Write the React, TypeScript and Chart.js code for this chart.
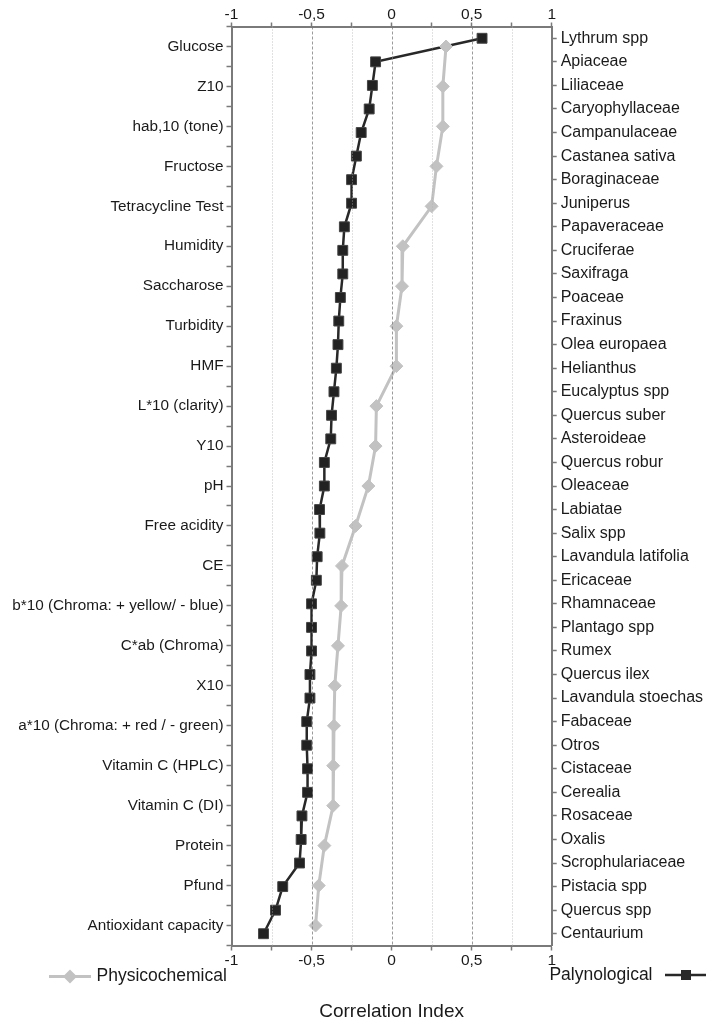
import React, { useEffect, useRef } from 'react';
import { Chart, registerables } from 'chart.js';

Chart.register(...registerables);

const physLabels = [
  'Glucose', 'Z10', 'hab,10 (tone)', 'Fructose', 'Tetracycline Test', 'Humidity', 'Saccharose',
  'Turbidity', 'HMF', 'L*10 (clarity)', 'Y10', 'pH', 'Free acidity', 'CE',
  'b*10 (Chroma: + yellow/ - blue)', 'C*ab (Chroma)', 'X10', 'a*10 (Chroma: + red / - green)',
  'Vitamin C (HPLC)', 'Vitamin C (DI)', 'Protein', 'Pfund', 'Antioxidant capacity',
];
const physValues = [
  0.34, 0.32, 0.32, 0.28, 0.25, 0.07, 0.065, 0.03, 0.03, -0.095, -0.10, -0.145, -0.225,
  -0.31, -0.315, -0.335, -0.355, -0.36, -0.365, -0.365, -0.42, -0.455, -0.475,
];

const palyLabels = [
  'Lythrum spp', 'Apiaceae', 'Liliaceae', 'Caryophyllaceae', 'Campanulaceae', 'Castanea sativa',
  'Boraginaceae', 'Juniperus', 'Papaveraceae', 'Cruciferae', 'Saxifraga', 'Poaceae', 'Fraxinus',
  'Olea europaea', 'Helianthus', 'Eucalyptus spp', 'Quercus suber', 'Asteroideae', 'Quercus robur',
  'Oleaceae', 'Labiatae', 'Salix spp', 'Lavandula latifolia', 'Ericaceae', 'Rhamnaceae',
  'Plantago spp', 'Rumex', 'Quercus ilex', 'Lavandula stoechas', 'Fabaceae', 'Otros', 'Cistaceae',
  'Cerealia', 'Rosaceae', 'Oxalis', 'Scrophulariaceae', 'Pistacia spp', 'Quercus spp', 'Centaurium',
];
const palyValues = [
  0.565, -0.10, -0.12, -0.14, -0.19, -0.22, -0.25, -0.25, -0.295, -0.305, -0.305, -0.32, -0.33,
  -0.335, -0.345, -0.36, -0.375, -0.38, -0.42, -0.42, -0.45, -0.448, -0.465, -0.47, -0.50,
  -0.50, -0.50, -0.51, -0.51, -0.53, -0.53, -0.525, -0.525, -0.56, -0.565, -0.575, -0.68, -0.725, -0.80,
];

const gridValues = [-0.75, -0.5, -0.25, 0, 0.25, 0.5, 0.75];
const xTitle = 'Correlation Index';
const physName = 'Physicochemical';
const palyName = 'Palynological';

const FONT = "'Liberation Sans', Arial, sans-serif";
const TEXT = '#1a1a1a';
const AXIS = '#7a7a7a';
const GRAY = '#c2c2c2';
const DARK = '#282828';

const isInt = (v: number) => Math.abs(v - Math.round(v)) < 1e-6;
const isHalf = (v: number) => isInt(v * 2);
const fmt = (v: number) => String(Math.round(v * 100) / 100).replace('.', ',');

const gridPlugin = {
  id: 'customGrid',
  afterDatasetsDraw(chart: any) {
    const { ctx, chartArea } = chart;
    const xs = chart.scales.x;
    ctx.save();
    gridValues.forEach((v) => {
      const x = Math.round(xs.getPixelForValue(v)) + 0.5;
      const half = isHalf(v);
      ctx.beginPath();
      ctx.lineWidth = 1;
      ctx.strokeStyle = half ? 'rgba(120,120,120,0.75)' : 'rgba(175,175,175,0.75)';
      ctx.setLineDash(half ? [3, 2] : [1, 2]);
      ctx.moveTo(x, chartArea.top);
      ctx.lineTo(x, chartArea.bottom);
      ctx.stroke();
    });
    ctx.restore();
  },
};

const legendPlugin = {
  id: 'customLegend',
  afterDraw(chart: any) {
    const { ctx } = chart;
    ctx.save();
    ctx.font = `17.5px ${FONT}`;
    ctx.fillStyle = TEXT;
    ctx.textBaseline = 'middle';
    // Physicochemical (left)
    let y = 968.5;
    ctx.strokeStyle = GRAY;
    ctx.lineWidth = 3;
    ctx.beginPath();
    ctx.moveTo(41, y);
    ctx.lineTo(83, y);
    ctx.stroke();
    ctx.fillStyle = GRAY;
    ctx.beginPath();
    const r = 7;
    ctx.moveTo(62 - r, y);
    ctx.lineTo(62, y - r);
    ctx.lineTo(62 + r, y);
    ctx.lineTo(62, y + r);
    ctx.closePath();
    ctx.fill();
    ctx.fillStyle = TEXT;
    ctx.textAlign = 'left';
    ctx.fillText(physName, 88.5, y);
    // Palynological (right)
    y = 967;
    ctx.textAlign = 'right';
    ctx.fillText(palyName, 644.5, y);
    ctx.strokeStyle = DARK;
    ctx.lineWidth = 2.5;
    ctx.beginPath();
    ctx.moveTo(657, y);
    ctx.lineTo(698, y);
    ctx.stroke();
    ctx.fillStyle = DARK;
    ctx.fillRect(678 - 5, y - 5, 10, 10);
    ctx.restore();
  },
};

export default function App() {
  const ref = useRef<HTMLCanvasElement | null>(null);

  useEffect(() => {
    if (!ref.current) return;
    const chart = new Chart(ref.current, {
      type: 'line',
      data: {
        datasets: [
          {
            label: physName,
            data: physValues.map((v, i) => ({ x: v, y: i })),
            xAxisID: 'x',
            yAxisID: 'yL',
            borderColor: GRAY,
            backgroundColor: GRAY,
            borderWidth: 3,
            pointStyle: 'rectRot',
            pointRadius: 6.5,
            pointBorderWidth: 1,
            pointBackgroundColor: GRAY,
            pointBorderColor: GRAY,
            tension: 0,
            clip: false,
          } as any,
          {
            label: palyName,
            data: palyValues.map((v, i) => ({ x: v, y: i })),
            xAxisID: 'x',
            yAxisID: 'yR',
            borderColor: DARK,
            backgroundColor: DARK,
            borderWidth: 2.5,
            pointStyle: 'rect',
            pointRadius: 7,
            pointBorderWidth: 1,
            pointBackgroundColor: '#222222',
            pointBorderColor: '#444444',
            tension: 0,
            clip: false,
          } as any,
        ],
      },
      options: {
        animation: false,
        responsive: true,
        maintainAspectRatio: false,
        indexAxis: 'y',
        layout: { padding: 0 },
        plugins: {
          legend: { display: false },
          tooltip: { enabled: false },
          title: { display: false },
        },
        scales: {
          x: {
            type: 'linear',
            position: 'bottom',
            min: -1,
            max: 1,
            ticks: {
              stepSize: 0.25,
              autoSkip: false,
              maxRotation: 0,
              padding: 1,
              color: TEXT,
              font: { family: FONT, size: 15.5 },
              callback: (v: any) => (isHalf(Number(v)) ? fmt(Number(v)) : ''),
            },
            grid: { drawOnChartArea: false, tickLength: 5, tickColor: AXIS, tickWidth: 1.5 },
            border: { color: AXIS, width: 2 },
            title: {
              display: true,
              text: xTitle,
              color: TEXT,
              font: { family: FONT, size: 19 },
              padding: { top: 0, bottom: 1 },
            },
            afterFit: (s: any) => { s.height = 78.5; },
          },
          x2: {
            type: 'linear',
            position: 'top',
            min: -1,
            max: 1,
            ticks: {
              stepSize: 0.25,
              autoSkip: false,
              maxRotation: 0,
              padding: -2,
              color: TEXT,
              font: { family: FONT, size: 15.5 },
              callback: (v: any) => (isHalf(Number(v)) ? fmt(Number(v)) : ''),
            },
            grid: { drawOnChartArea: false, tickLength: 4, tickColor: AXIS, tickWidth: 1.5 },
            border: { color: AXIS, width: 2 },
            afterFit: (s: any) => { s.height = 18.5; },
          },
          yL: {
            type: 'linear',
            position: 'left',
            reverse: true,
            min: -0.5,
            max: physLabels.length - 0.5,
            ticks: {
              stepSize: 0.5,
              autoSkip: false,
              padding: 3,
              color: TEXT,
              font: { family: FONT, size: 15.3 },
              callback: (v: any) => {
                const n = Number(v);
                return isInt(n) && n >= 0 && n < physLabels.length ? physLabels[Math.round(n)] : '';
              },
            },
            grid: { drawOnChartArea: false, tickLength: 5, tickColor: AXIS, tickWidth: 1.5 },
            border: { color: AXIS, width: 2 },
            afterFit: (s: any) => { s.width = 223.5; },
          },
          yR: {
            type: 'linear',
            position: 'right',
            reverse: true,
            min: -0.5,
            max: palyLabels.length - 0.5,
            ticks: {
              stepSize: 0.5,
              autoSkip: false,
              padding: 4,
              color: TEXT,
              font: { family: FONT, size: 16 },
              callback: (v: any) => {
                const n = Number(v);
                return isInt(n) && n >= 0 && n < palyLabels.length ? palyLabels[Math.round(n)] : '';
              },
            },
            grid: {
              drawOnChartArea: false,
              tickLength: 5,
              tickWidth: 1.5,
              tickColor: (c: any) => {
                const n = c.tick ? Number(c.tick.value) : 0.5;
                return isInt(n) ? AXIS : 'rgba(0,0,0,0)';
              },
            },
            border: { color: AXIS, width: 2 },
            afterFit: (s: any) => { s.width = 154.3; },
          },
        },
      } as any,
      plugins: [gridPlugin, legendPlugin],
    });
    return () => chart.destroy();
  }, []);

  return (
    <div style={{ position: 'relative', width: 698, height: 1016 }}>
      <canvas ref={ref} />
    </div>
  );
}
